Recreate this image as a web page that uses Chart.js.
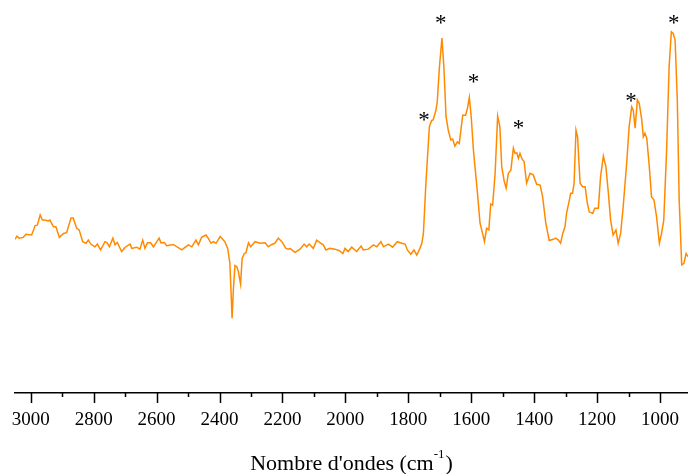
<!DOCTYPE html>
<html><head><meta charset="utf-8">
<script src="https://cdn.jsdelivr.net/npm/chart.js@4"></script>
<style>html,body{margin:0;padding:0;background:#fff;overflow:hidden}</style>
</head><body>
<canvas id="c" width="688" height="474" style="display:block;width:688px;height:474px"></canvas>
<script>
// Wavenumbers (cm-1) and relative intensity (arbitrary units)
const wavenumbers = [
3050,3044,3037,3024,3015,2997,2986,2979,2970,2963,2955,2944,2939,2928,2920,2909,2896,2886,2872,2865,
2854,2846,2835,2824,2817,2809,2796,2788,2778,2764,2757,2750,2739,2732,2725,2711,2700,2684,2679,2663,
2653,2644,2637,2629,2619,2610,2592,2586,2576,2568,2547,2520,2499,2488,2475,2467,2457,2443,2436,2427,
2420,2411,2398,2390,2383,2374,2367,2360,2356,2351,2345,2340,2333,2328,2321,2316,2308,2301,2287,2271,
2255,2245,2234,2224,2213,2202,2189,2181,2176,2160,2144,2131,2123,2115,2102,2091,2078,2070,2062,2049,
2033,2019,2008,2001,1991,1980,1964,1950,1943,1927,1911,1900,1887,1879,1863,1850,1835,1821,1810,1803,
1792,1782,1773,1763,1757,1752,1744,1733,1726,1721,1712,1708,1701,1693,1687,1680,1673,1665,1659,1652,
1644,1638,1627,1618,1612,1606,1600,1593,1585,1581,1572,1564,1558,1551,1544,1538,1532,1524,1516,1509,
1503,1495,1489,1482,1474,1466,1461,1455,1450,1445,1438,1432,1424,1413,1403,1392,1381,1373,1363,1352,
1339,1331,1323,1316,1309,1302,1297,1288,1284,1278,1273,1267,1262,1254,1246,1238,1231,1225,1214,1207,
1196,1189,1180,1172,1164,1157,1149,1140,1133,1125,1117,1106,1098,1090,1085,1079,1072,1066,1058,1053,
1048,1042,1034,1027,1019,1011,1002,995,988,979,971,964,958,952,945,939,931,924,917,911
];
const intensity = [
39.1,39.9,39.4,39.6,40.4,40.2,42.6,42.7,45.3,44.0,44.0,43.8,44.0,42.3,42.3,39.6,40.6,40.8,44.5,44.5,
41.9,41.5,38.5,38.1,38.9,37.9,37.2,37.9,36.4,38.5,38.2,37.2,39.4,37.7,38.3,36.0,37.1,37.9,36.8,37.1,
36.6,38.9,36.8,38.2,38.2,37.2,39.4,38.2,38.3,37.5,37.8,36.4,37.7,37.2,38.9,37.7,39.6,40.2,39.4,38.1,
38.5,38.1,39.8,39.1,38.5,36.8,33.0,19.0,26.2,32.4,32.1,30.9,27.7,34.3,35.5,35.7,38.2,37.2,38.5,38.1,
38.2,37.2,37.8,38.1,39.4,38.5,36.8,36.6,36.8,35.8,36.6,37.9,37.2,37.9,36.8,38.9,38.1,37.7,36.4,36.8,
36.6,36.2,35.5,36.8,36.0,37.1,36.0,37.4,36.4,36.6,37.7,37.2,38.5,37.2,37.9,37.1,38.5,38.1,37.9,36.4,
35.3,36.4,35.1,36.8,38.1,40.6,53.4,67.8,69.3,69.5,72.0,74.1,83.0,90.3,83.0,70.3,66.9,64.4,64.6,62.8,
63.9,63.5,70.7,70.7,72.4,75.2,70.3,61.8,55.0,51.7,43.2,40.6,38.5,41.9,41.5,48.1,47.8,55.9,70.5,67.8,
57.6,53.8,52.1,55.9,56.7,62.3,61.0,61.1,59.7,61.0,59.5,58.9,53.4,55.9,55.5,53.1,52.9,49.9,43.2,38.8,
39.1,39.4,38.9,38.1,40.6,42.3,45.7,49.1,50.8,50.8,53.4,66.9,65.2,53.4,52.5,52.5,48.3,46.1,45.7,47.0,
47.0,55.0,60.3,57.6,50.8,44.0,40.2,41.5,38.1,40.6,47.4,58.4,67.8,72.8,72.0,67.4,74.6,73.7,69.5,65.2,
66.1,64.8,57.6,49.9,49.1,44.9,38.1,40.6,44.0,61.8,83.0,91.9,91.5,89.8,74.6,49.1,32.6,33.0,35.5,34.7
];
// Marked bands (*)
const starWavenumbers = [1750, 1697, 1593, 1450, 1092, 956];
const starLevels = [70.3, 95.0, 79.8, 68.2, 75.0, 95.0];
// Axis
const axisMax = 3050, axisMin = 911;
const majorStep = 200, minorStep = 100;
const axisTitle = "Nombre d'ondes (cm";
const axisTitleSup = "-1";

const SERIF = "'Liberation Serif','Times New Roman',serif";

const decor = {
  id: 'decor',
  afterDraw(chart) {
    const ctx = chart.ctx, s = chart.scales.x, y = chart.scales.y, area = chart.chartArea;
    ctx.save();
    // tick marks
    ctx.strokeStyle = '#000'; ctx.lineWidth = 1.5;
    s.ticks.forEach(t => {
      const px = Math.round(s.getPixelForValue(t.value)) + 0.5;
      const len = (t.value % majorStep === 0) ? 10 : 4;
      ctx.beginPath(); ctx.moveTo(px, area.bottom); ctx.lineTo(px, area.bottom + len); ctx.stroke();
    });
    // asterisks
    ctx.fillStyle = '#000';
    ctx.font = '23px ' + SERIF;
    ctx.textAlign = 'center'; ctx.textBaseline = 'middle';
    starWavenumbers.forEach((w, i) => {
      ctx.fillText('*', s.getPixelForValue(w), y.getPixelForValue(starLevels[i]) + 4);
    });
    // axis title
    const mainFont = '22px ' + SERIF, supFont = '13px ' + SERIF;
    ctx.font = mainFont; const w1 = ctx.measureText(axisTitle).width; const w3 = ctx.measureText(')').width;
    ctx.font = supFont; const w2 = ctx.measureText(axisTitleSup).width;
    const total = w1 + w2 + w3 + 1;
    let x0 = (area.left + area.right) / 2 - total / 2;
    const base = 470;
    ctx.textAlign = 'left'; ctx.textBaseline = 'alphabetic';
    ctx.font = mainFont; ctx.fillText(axisTitle, x0, base);
    ctx.font = supFont; ctx.fillText(axisTitleSup, x0 + w1, base - 12);
    ctx.font = mainFont; ctx.fillText(')', x0 + w1 + w2 + 1, base);
    ctx.restore();
  }
};

new Chart(document.getElementById('c'), {
  type: 'line',
  data: {
    datasets: [{
      data: wavenumbers.map((w, i) => ({ x: w, y: intensity[i] })),
      borderColor: '#FF8A00',
      borderWidth: 1.5,
      pointRadius: 0,
      tension: 0,
      fill: false
    }]
  },
  options: {
    responsive: false,
    animation: false,
    devicePixelRatio: 1,
    layout: { padding: { left: 15, right: 0, top: 0, bottom: 0 } },
    plugins: { legend: { display: false }, tooltip: { enabled: false } },
    scales: {
      x: {
        type: 'linear', reverse: true, min: axisMin, max: axisMax,
        afterFit: (sc) => { sc.height = 81; sc.paddingLeft = 0; sc.paddingRight = 0; },
        grid: { display: false, drawTicks: false },
        border: { display: true, color: '#000', width: 1.5 },
        ticks: {
          stepSize: minorStep, includeBounds: false, autoSkip: false, maxRotation: 0,
          padding: 16, color: '#000',
          font: { family: SERIF, size: 19 },
          callback: (v) => (v % majorStep === 0 ? String(v) : '')
        }
      },
      y: { display: false, min: 0, max: 100 }
    }
  },
  plugins: [decor]
});
</script>
</body></html>
